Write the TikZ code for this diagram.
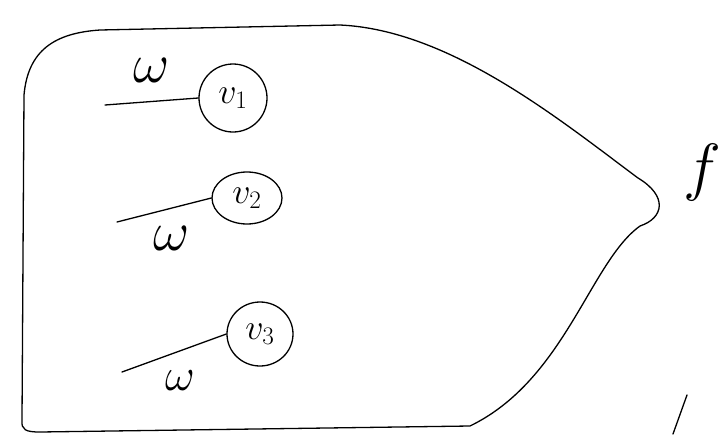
\documentclass[tikz,border=0pt]{standalone}
\usepackage{fix-cm}
\usetikzlibrary{positioning,shapes.geometric}

\begin{document}
\begin{tikzpicture}[x=1pt, y=-1pt, line width=1.3pt, line cap=round,
  vx/.style={draw, ellipse, inner sep=0pt, minimum width=68pt, minimum height=68pt, font=\fontsize{36}{36}\selectfont},
  wt/.style={font=\fontsize{56}{56}\selectfont}]
\useasboundingbox (0,0) rectangle (726,434);
% outline
\draw (22,420) -- (24,95) .. controls (28,50) and (55,33) .. (100,30) -- (340,25)
  .. controls (450,30) and (560,120) .. (638,178) .. controls (668,196) and (664,218) .. (640,226)
  .. controls (590,262) and (565,380) .. (470,426) -- (40,432) .. controls (26,432) and (21,430) .. (22,420) -- cycle;
% vertices
\node[vx] (v1) at (233,98) {$v_1$};
\node[vx, minimum width=70pt, minimum height=52pt] (v2) at (247,198) {$v_2$};
\node[vx, minimum width=66pt, minimum height=64pt] (v3) at (260,334) {$v_3$};
\coordinate (w1) at (105,105);
\coordinate (w2) at (117,222);
\coordinate (w3) at (122,372);
\draw (w1) -- (v1.west);
\draw (w2) -- (v2.west);
\draw (w3) -- (v3.west);
\node[wt] (l1) at (152,70) {$\omega$};
\node[wt] (l2) at (172,238) {$\omega$};
\node[wt, font=\fontsize{46}{46}\selectfont] (l3) at (180,381) {$\omega$};
\node[font=\fontsize{64}{64}\selectfont] (f) at (702,172) {$f$};
% scrawl at the bottom
\draw (687,395) -- (673,434);
\end{tikzpicture}
\end{document}
